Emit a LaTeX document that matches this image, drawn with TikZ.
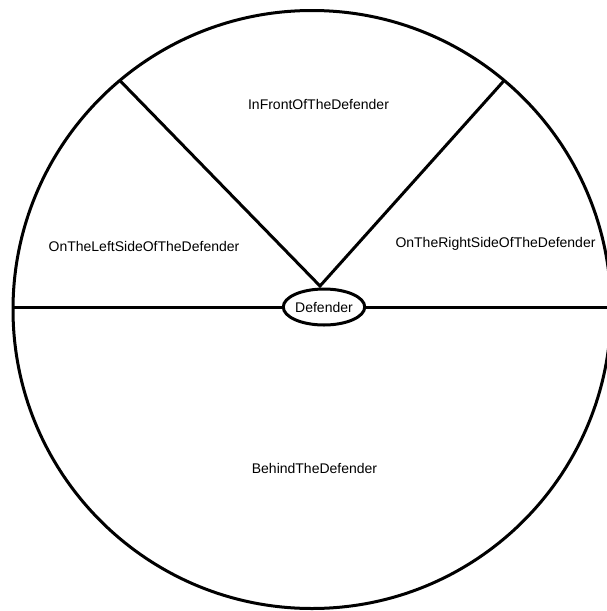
\documentclass[tikz,border=0pt]{standalone}
\usepackage{fontspec}
\setmainfont{Liberation Sans}
\usetikzlibrary{shapes.geometric}
\begin{document}
\begin{tikzpicture}[x=1pt,y=-1pt,
  thick line/.style={line width=3pt},
  zone/.style={font=\fontsize{14}{16}\selectfont, inner sep=0pt},
  player/.style={ellipse, draw, line width=3pt, minimum width=79pt, minimum height=36pt, inner sep=0pt, outer sep=0pt, font=\fontsize{14}{16}\selectfont}]
  \useasboundingbox (0,0) rectangle (606,611);
  % outer boundary of the field
  \node[circle, draw, thick line, minimum size=598pt, inner sep=0pt, outer sep=0pt] (field) at (312,309.5) {};
  % the defender in the middle
  \node[player] (def) at (324,307) {Defender};
  \coordinate (apex) at (320,286);
  \coordinate (lwall) at (13,307);
  \coordinate (rwall) at (612,307);
  \coordinate (lcorner) at (field.130.2);
  \coordinate (rcorner) at (field.50.9);
  % sector boundaries
  \draw[thick line] (lwall) -- (def.west);
  \draw[thick line] (def.east) -- (rwall);
  \draw[thick line, line join=miter] (lcorner) -- (apex) -- (rcorner);
  % sector labels
  \node[zone] (front) at (318.5,104) {InFrontOfTheDefender};
  \node[zone] (left) at (144,246) {OnTheLeftSideOfTheDefender};
  \node[zone] (right) at (495.5,244) {OnTheRightSideOfTheDefender};
  \node[zone] (behind) at (314.5,468) {BehindTheDefender};
\end{tikzpicture}
\end{document}
